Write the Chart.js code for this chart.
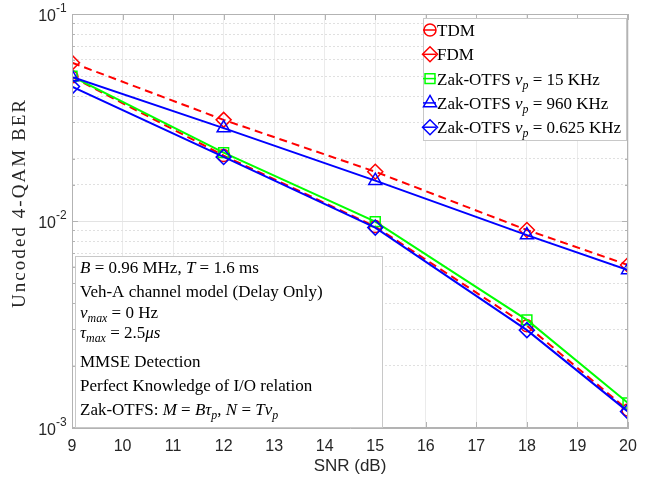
<!DOCTYPE html>
<html lang="en">
<head>
<meta charset="UTF-8">
<title>Uncoded 4-QAM BER vs SNR</title>
<script src="https://cdn.jsdelivr.net/npm/chart.js"></script>
<style>
  html, body { margin: 0; padding: 0; background: #fff; }
</style>
</head>
<body>
<canvas id="ber" width="660" height="477"></canvas>

<script>
// values
const snr = [9, 12, 15, 18, 20];
const berTDM = [0.0497, 0.0207, 0.0094, 0.00312, 0.00122];
const berFDM = [0.0582, 0.0308, 0.0173, 0.00905, 0.00613];
const berZak15 = [0.0500, 0.0214, 0.00993, 0.00333, 0.00132];
const berZak960 = [0.0496, 0.0281, 0.01566, 0.00855, 0.0058];
const berZak0625 = [0.0446, 0.0204, 0.00929, 0.00297, 0.00120];
const yDecades = [0.1, 0.01, 0.001];
const xTicks = [9, 10, 11, 12, 13, 14, 15, 16, 17, 18, 19, 20];
const yTitle = 'Uncoded 4-QAM BER';

// legend / note text: plain strings, ['x','i'] = italic, ['x','s'] = italic subscript
const legendLabels = [
    ['TDM'],
    ['FDM'],
    ['Zak-OTFS ', ['ν', 'i'], ['p', 's'], ' = 15 KHz'],
    ['Zak-OTFS ', ['ν', 'i'], ['p', 's'], ' = 960 KHz'],
    ['Zak-OTFS ', ['ν', 'i'], ['p', 's'], ' = 0.625 KHz']
];
const noteLines = [
    [['B', 'i'], ' = 0.96 MHz, ', ['T', 'i'], ' = 1.6 ms'],
    ['Veh-A channel model (Delay Only)'],
    [['ν', 'i'], ['max', 's'], ' = 0 Hz'],
    [['τ', 'i'], ['max', 's'], ' = 2.5', ['μs', 'i']],
    ['MMSE Detection'],
    ['Perfect Knowledge of I/O relation'],
    ['Zak-OTFS: ', ['M', 'i'], ' = ', ['B', 'i'], ['τ', 'i'], ['p', 's'], ', ', ['N', 'i'], ' = ', ['T', 'i'], ['ν', 'i'], ['p', 's']]
];

const SERIF = '"Liberation Serif", "Times New Roman", serif';
const SANS = '"Liberation Sans", Arial, sans-serif';

function isDecade(v) {
    const l = Math.log10(v);
    return Math.abs(l - Math.round(l)) < 1e-6;
}

function pts(ys) {
    return snr.map((x, i) => ({ x: x, y: ys[i] }));
}

function series(label, ys, color, marker, radius, dashed) {
    return {
        label: label,
        data: pts(ys),
        borderColor: color,
        backgroundColor: color,
        borderWidth: 2,
        borderDash: dashed ? [8, 5] : [],
        pointStyle: marker,
        pointRadius: radius,
        pointBorderWidth: 1.5,
        pointBorderColor: color,
        pointBackgroundColor: 'rgba(0,0,0,0)',
        tension: 0
    };
}

function richText(ctx, x, y, parts, size) {
    parts.forEach(p => {
        let txt = p, style = '';
        if (Array.isArray(p)) { txt = p[0]; style = p[1]; }
        const fs = style === 's' ? size * 0.7 : size;
        ctx.font = (style ? 'italic ' : '') + fs + 'px ' + SERIF;
        ctx.fillText(txt, x, y + (style === 's' ? size * 0.25 : 0));
        x += ctx.measureText(txt).width;
    });
    return x;
}

const datasets = [
    series('TDM', berTDM, '#ff0000', 'circle', 6, true),
    series('FDM', berFDM, '#ff0000', 'rectRot', 7.5, true),
    series('Zak-OTFS 15 KHz', berZak15, '#00ff00', 'rect', 7, false),
    series('Zak-OTFS 960 KHz', berZak960, '#0000ff', 'triangle', 7.5, false),
    series('Zak-OTFS 0.625 KHz', berZak0625, '#0000ff', 'rectRot', 7.5, false)
];
// later series drawn on top, like the original figure
datasets.forEach((d, i) => { d.order = datasets.length - i; });

const framePlugin = {
    id: 'frame',
    afterDraw(chart) {
        const ctx = chart.ctx;
        const a = chart.chartArea;
        const xs = chart.scales.x, ys = chart.scales.y;
        ctx.save();

        // axes box
        ctx.strokeStyle = '#b3b3b3';
        ctx.lineWidth = 1;
        ctx.strokeRect(a.left + 0.5, a.top + 0.5, a.right - a.left - 1, a.bottom - a.top - 1);

        // inner tick marks
        ctx.beginPath();
        xTicks.forEach(v => {
            const px = Math.round(xs.getPixelForValue(v)) + 0.5;
            ctx.moveTo(px, a.bottom); ctx.lineTo(px, a.bottom - 6);
            ctx.moveTo(px, a.top); ctx.lineTo(px, a.top + 6);
        });
        ys.ticks.forEach(t => {
            const py = Math.round(ys.getPixelForValue(t.value)) + 0.5;
            const len = isDecade(t.value) ? 6 : 3;
            ctx.moveTo(a.left, py); ctx.lineTo(a.left + len, py);
            ctx.moveTo(a.right, py); ctx.lineTo(a.right - len, py);
        });
        ctx.stroke();

        // y tick labels 10^n
        ctx.fillStyle = '#262626';
        yDecades.forEach(v => {
            const py = ys.getPixelForValue(v);
            const e = Math.round(Math.log10(v));
            ctx.font = '16px ' + SANS;
            ctx.textAlign = 'right';
            ctx.textBaseline = 'middle';
            ctx.fillText('10', 56, py + 3);
            ctx.font = '12px ' + SANS;
            ctx.textAlign = 'left';
            ctx.textBaseline = 'alphabetic';
            ctx.fillText(String(e), 56, py - 2);
        });

        // y axis title, stretched to the length of the original lettering
        ctx.save();
        ctx.translate(25, (a.top + a.bottom) / 2 - 18);
        ctx.rotate(-Math.PI / 2);
        ctx.font = '19px ' + SERIF;
        const w0 = ctx.measureText(yTitle).width;
        ctx.letterSpacing = ((208 - w0) / (yTitle.length - 1)).toFixed(2) + 'px';
        const w1 = ctx.measureText(yTitle).width;
        ctx.textAlign = 'left';
        ctx.textBaseline = 'alphabetic';
        ctx.fillStyle = '#262626';
        ctx.fillText(yTitle, -w1 / 2, 0);
        ctx.restore();

        // legend
        ctx.textAlign = 'left';
        ctx.textBaseline = 'alphabetic';
        const lx = 423, ly = 18, lw = 203, lh = 122;
        ctx.fillStyle = '#ffffff';
        ctx.fillRect(lx, ly, lw, lh);
        ctx.strokeStyle = '#c8c8c8';
        ctx.lineWidth = 1;
        ctx.strokeRect(lx + 0.5, ly + 0.5, lw, lh);
        legendLabels.forEach((parts, i) => {
            const ds = datasets[i];
            const base = 36 + i * 24.3;
            const my = base - 6;
            ctx.strokeStyle = ds.borderColor;
            ctx.lineWidth = 1.5;
            ctx.beginPath();
            ctx.moveTo(423, my); ctx.lineTo(436, my);
            ctx.stroke();
            ctx.fillStyle = 'rgba(0,0,0,0)';
            Chart.helpers.drawPoint(ctx, {
                pointStyle: ds.pointStyle,
                radius: ds.pointRadius,
                borderWidth: 1.5,
                rotation: 0
            }, 430, my);
            ctx.fillStyle = '#000000';
            richText(ctx, 437, base, parts, 17);
        });

        // parameter note
        const nx = 75, ny = 256, nw = 307, nh = 171;
        ctx.fillStyle = '#ffffff';
        ctx.fillRect(nx, ny, nw, nh);
        ctx.strokeStyle = '#c8c8c8';
        ctx.lineWidth = 1;
        ctx.strokeRect(nx + 0.5, ny + 0.5, nw, nh);
        const noteBase = [273, 297, 318, 338, 367, 391, 415];
        ctx.fillStyle = '#000000';
        noteLines.forEach((parts, i) => richText(ctx, 80, noteBase[i], parts, 17));

        ctx.restore();
    }
};

new Chart(document.getElementById('ber'), {
    type: 'line',
    data: { datasets: datasets },
    options: {
        responsive: false,
        animation: false,
        layout: { padding: { left: 0, right: 32, top: 14, bottom: 0 } },
        plugins: { legend: { display: false }, tooltip: { enabled: false } },
        scales: {
            x: {
                type: 'linear',
                min: 9,
                max: 20,
                ticks: { stepSize: 1, color: '#262626', font: { family: SANS, size: 16 }, padding: 9 },
                grid: { color: '#ebebeb', drawTicks: false },
                border: { color: '#b3b3b3' },
                title: { display: true, text: 'SNR (dB)', color: '#262626', font: { family: SANS, size: 17 }, padding: { top: 0, bottom: 0 } },
                afterFit(s) { s.height = 49; }
            },
            y: {
                type: 'logarithmic',
                min: 0.001,
                max: 0.1,
                ticks: { display: false, autoSkip: false },
                grid: {
                    drawTicks: false,
                    color: c => (c.tick && isDecade(c.tick.value)) ? '#e3e3e3' : '#e0e0e0'
                },
                border: {
                    color: '#b3b3b3',
                    dash: c => (c.tick && !isDecade(c.tick.value)) ? [2, 2] : []
                },
                afterFit(s) { s.width = 72; }
            }
        }
    },
    plugins: [framePlugin]
});
</script>
</body>
</html>
